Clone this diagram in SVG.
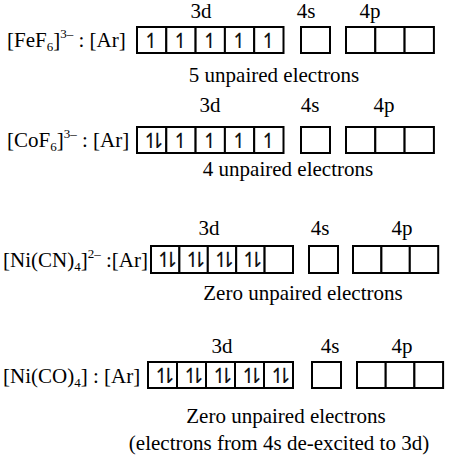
<svg xmlns="http://www.w3.org/2000/svg" width="452" height="464" viewBox="0 0 452 464">
<style>
.t{font-family:"Liberation Serif","Times New Roman",serif;font-size:21px;fill:#000}
.c{text-anchor:middle}
.s{font-size:13px}
.b{fill:#fff;stroke:#000;stroke-width:2}
.a{font-family:"DejaVu Sans","Liberation Sans",sans-serif;font-size:21px;text-anchor:middle;fill:#111}
.p{letter-spacing:-11px}
</style>
<rect width="452" height="464" fill="#fff"/>

<g id="row-fef6">
<text class="t c" x="201" y="18">3d</text>
<text class="t c" x="306" y="18">4s</text>
<text class="t c" x="370" y="18">4p</text>
<text class="t" x="7" y="47">[FeF<tspan class="s" dy="4">6</tspan><tspan dy="-4">]</tspan><tspan class="s" dy="-9">3–</tspan><tspan dy="9"> : [Ar]</tspan></text>
<rect class="b" x="137" y="27" width="29.3" height="26"/>
<rect class="b" x="166.3" y="27" width="29.3" height="26"/>
<rect class="b" x="195.6" y="27" width="29.3" height="26"/>
<rect class="b" x="224.9" y="27" width="29.3" height="26"/>
<rect class="b" x="254.2" y="27" width="29.3" height="26"/>
<text class="a" x="151.6" y="48">↿</text>
<text class="a" x="180.9" y="48">↿</text>
<text class="a" x="210.2" y="48">↿</text>
<text class="a" x="239.5" y="48">↿</text>
<text class="a" x="268.8" y="48">↿</text>
<rect class="b" x="301" y="27" width="29" height="26"/>
<rect class="b" x="346" y="27" width="29.3" height="26"/>
<rect class="b" x="375.3" y="27" width="29.3" height="26"/>
<rect class="b" x="404.6" y="27" width="29.3" height="26"/>
<text class="t c" x="274" y="82">5 unpaired electrons</text>
</g>

<g id="row-cof6">
<text class="t c" x="210" y="112">3d</text>
<text class="t c" x="310" y="112">4s</text>
<text class="t c" x="384" y="112">4p</text>
<text class="t" x="7" y="147">[CoF<tspan class="s" dy="4">6</tspan><tspan dy="-4">]</tspan><tspan class="s" dy="-9">3–</tspan><tspan dy="9"> : [Ar]</tspan></text>
<rect class="b" x="137" y="127" width="29.3" height="26"/>
<rect class="b" x="166.3" y="127" width="29.3" height="26"/>
<rect class="b" x="195.6" y="127" width="29.3" height="26"/>
<rect class="b" x="224.9" y="127" width="29.3" height="26"/>
<rect class="b" x="254.2" y="127" width="29.3" height="26"/>
<text class="a p" x="148.6" y="148">↿⇂</text>
<text class="a" x="180.9" y="148">↿</text>
<text class="a" x="210.2" y="148">↿</text>
<text class="a" x="239.5" y="148">↿</text>
<text class="a" x="268.8" y="148">↿</text>
<rect class="b" x="301" y="127" width="29" height="26"/>
<rect class="b" x="346" y="127" width="29.3" height="26"/>
<rect class="b" x="375.3" y="127" width="29.3" height="26"/>
<rect class="b" x="404.6" y="127" width="29.3" height="26"/>
<text class="t c" x="288" y="176">4 unpaired electrons</text>
</g>

<g id="row-nicn4">
<text class="t c" x="209" y="235">3d</text>
<text class="t c" x="320" y="235">4s</text>
<text class="t c" x="402" y="235">4p</text>
<text class="t" x="3" y="267">[Ni(CN)<tspan class="s" dy="4">4</tspan><tspan dy="-4">]</tspan><tspan class="s" dy="-9">2–</tspan><tspan dy="9"> :[Ar]</tspan></text>
<rect class="b" x="151" y="246" width="28.4" height="27"/>
<rect class="b" x="179.4" y="246" width="28.4" height="27"/>
<rect class="b" x="207.8" y="246" width="28.4" height="27"/>
<rect class="b" x="236.2" y="246" width="28.4" height="27"/>
<rect class="b" x="264.6" y="246" width="28.4" height="27"/>
<text class="a p" x="162.2" y="267">↿⇂</text>
<text class="a p" x="190.6" y="267">↿⇂</text>
<text class="a p" x="219" y="267">↿⇂</text>
<text class="a p" x="247.4" y="267">↿⇂</text>
<rect class="b" x="309" y="246" width="29" height="27"/>
<rect class="b" x="353" y="246" width="28.4" height="27"/>
<rect class="b" x="381.4" y="246" width="28.4" height="27"/>
<rect class="b" x="409.8" y="246" width="28.4" height="27"/>
<text class="t c" x="303" y="300">Zero unpaired electrons</text>
</g>

<g id="row-nico4">
<text class="t c" x="222" y="353">3d</text>
<text class="t c" x="330" y="353">4s</text>
<text class="t c" x="402" y="353">4p</text>
<text class="t" x="3" y="383">[Ni(CO)<tspan class="s" dy="4">4</tspan><tspan dy="-4">] : [Ar]</tspan></text>
<rect class="b" x="148" y="362" width="29" height="26"/>
<rect class="b" x="177" y="362" width="29" height="26"/>
<rect class="b" x="206" y="362" width="29" height="26"/>
<rect class="b" x="235" y="362" width="29" height="26"/>
<rect class="b" x="264" y="362" width="29" height="26"/>
<text class="a p" x="159.5" y="383">↿⇂</text>
<text class="a p" x="188.5" y="383">↿⇂</text>
<text class="a p" x="217.5" y="383">↿⇂</text>
<text class="a p" x="246.5" y="383">↿⇂</text>
<text class="a p" x="275.5" y="383">↿⇂</text>
<rect class="b" x="312" y="362" width="29" height="26"/>
<rect class="b" x="357" y="362" width="28.7" height="26"/>
<rect class="b" x="385.7" y="362" width="28.7" height="26"/>
<rect class="b" x="414.4" y="362" width="28.7" height="26"/>
<text class="t c" x="286" y="423">Zero unpaired electrons</text>
<text class="t c" x="279" y="450">(electrons from 4s de-excited to 3d)</text>
</g>

<g id="connectors"/>
</svg>
